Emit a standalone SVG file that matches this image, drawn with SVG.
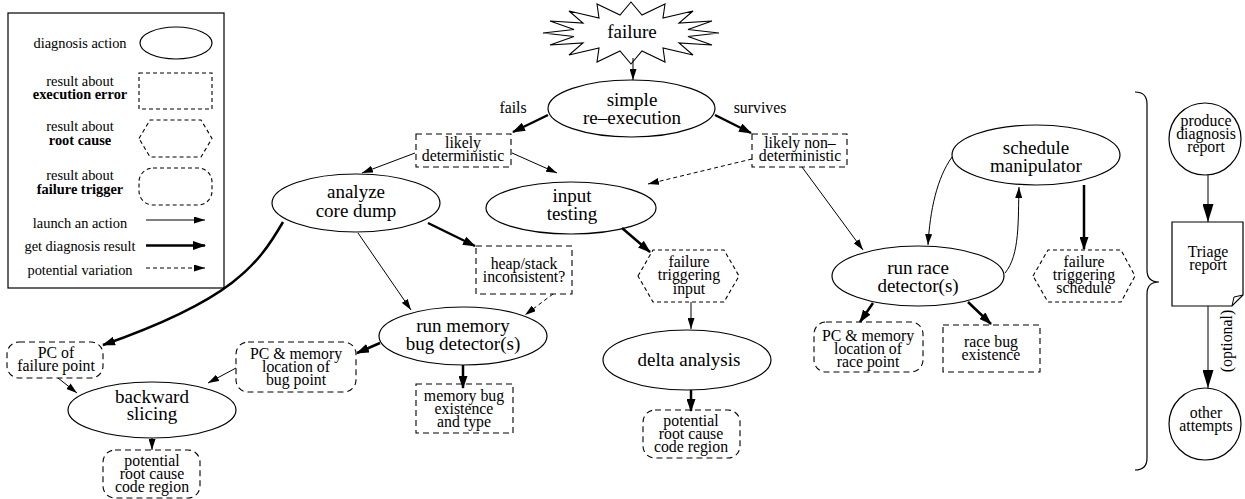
<svg xmlns="http://www.w3.org/2000/svg" width="1245" height="499" viewBox="0 0 1245 499" font-family="'Liberation Serif', 'DejaVu Serif', serif">
<style>
text{font-family:"Liberation Serif","DejaVu Serif",serif;fill:#000;text-anchor:middle}
.nt{font-size:19px}
.rt{font-size:15.8px}
.lt{font-size:14.4px}
.b{font-weight:bold}
.act{fill:#fff;stroke:#000;stroke-width:1.2}
.res{fill:#fff;stroke:#000;stroke-width:1.1;stroke-dasharray:6,4}
.hex{fill:#fff;stroke:#000;stroke-width:1.1;stroke-dasharray:4,3}
.thin{fill:none;stroke:#000;stroke-width:1;marker-end:url(#ah)}
.thick{fill:none;stroke:#000;stroke-width:2.5;marker-end:url(#ahb)}
.dash{fill:none;stroke:#000;stroke-width:1;stroke-dasharray:4,3;marker-end:url(#ah)}
.big{fill:none;stroke:#000;stroke-width:1;marker-end:url(#ahl)}
</style>
<defs>
<marker id="ah" viewBox="0 0 11 7" refX="11" refY="3.5" markerWidth="11" markerHeight="7" orient="auto" markerUnits="userSpaceOnUse"><path d="M0,0 L11,3.5 L0,7 z"/></marker>
<marker id="ahb" viewBox="0 0 13 9" refX="12" refY="4.5" markerWidth="13" markerHeight="9" orient="auto" markerUnits="userSpaceOnUse"><path d="M0,0 L13,4.5 L0,9 z"/></marker>
<marker id="ahl" viewBox="0 0 18 11" refX="18" refY="5.5" markerWidth="18" markerHeight="11" orient="auto" markerUnits="userSpaceOnUse"><path d="M0,0 L18,5.5 L0,11 z"/></marker>
</defs>

<g id="legend">
<rect x="8" y="13" width="216" height="275" fill="#fff" stroke="#000" stroke-width="1.2"/>
<text class="lt" x="80" y="48">diagnosis action</text>
<ellipse cx="176" cy="43" rx="36" ry="16" class="act"/>
<text class="lt" x="80" y="86">result about</text>
<text class="lt b" x="80" y="99">execution error</text>
<rect x="139" y="73" width="73" height="36" class="hex"/>
<text class="lt" x="80" y="131">result about</text>
<text class="lt b" x="80" y="145">root cause</text>
<polygon points="139,138.5 150,120 201,120 212,138.5 201,157 150,157" class="hex"/>
<text class="lt" x="80" y="180">result about</text>
<text class="lt b" x="80" y="194">failure trigger</text>
<rect x="139" y="168" width="73" height="37" rx="14" ry="14" class="hex"/>
<text class="lt" x="80" y="228">launch an action</text>
<line x1="146" y1="220" x2="205" y2="220" class="thin"/>
<text class="lt" x="80" y="251">get diagnosis result</text>
<line x1="146" y1="245.5" x2="205" y2="245.5" class="thick"/>
<text class="lt" x="80" y="275">potential variation</text>
<line x1="146" y1="268" x2="205" y2="268" class="dash"/>
</g>

<g id="failure">
<polygon points="719,33 688,36.5 712,45 679,43 693,55 663,48 665,62 642,51 631,64 620,51 597,62 599,48 569,55 583,43 550,45 574,36.5 543,33 574,29.5 550,21 583,23 569,11 599,18 597,4 620,15 631,2 642,15 665,4 663,18 693,11 679,23 712,21 688,29.5" fill="#fff" stroke="#000" stroke-width="1.1"/>
<text class="nt" x="632" y="38">failure</text>
</g>

<g id="simple">
<ellipse cx="631.5" cy="108.5" rx="83.5" ry="28.5" class="act"/>
<text class="nt" x="632" y="106">simple</text>
<text class="nt" x="632" y="124">re–execution</text>
</g>
<text class="rt" x="513" y="113">fails</text>
<text class="rt" x="760" y="113">survives</text>

<g id="likely-det">
<rect x="416" y="134" width="95" height="33" class="res"/>
<text class="rt" x="463" y="148">likely</text>
<text class="rt" x="463" y="161">deterministic</text>
</g>
<g id="likely-nondet">
<rect x="752" y="134" width="95" height="33" class="res"/>
<text class="rt" x="800" y="148">likely non–</text>
<text class="rt" x="800" y="161">deterministic</text>
</g>

<g id="analyze">
<ellipse cx="356" cy="203" rx="84" ry="29" class="act"/>
<text class="nt" x="356" y="198">analyze</text>
<text class="nt" x="356" y="217">core dump</text>
</g>
<g id="input">
<ellipse cx="571" cy="208" rx="85" ry="26" class="act"/>
<text class="nt" x="572" y="202">input</text>
<text class="nt" x="572" y="220">testing</text>
</g>

<g id="heapstack">
<rect x="476" y="246" width="96" height="48" class="res"/>
<text class="rt" x="524" y="269">heap/stack</text>
<text class="rt" x="524" y="282">inconsistent?</text>
</g>

<g id="fti">
<polygon points="638,276 653,250 724,250 739,276 724,302 653,302" class="hex"/>
<text class="rt" x="689" y="267">failure</text>
<text class="rt" x="689" y="280">triggering</text>
<text class="rt" x="689" y="294">input</text>
</g>

<g id="delta">
<ellipse cx="687" cy="360" rx="84" ry="30" class="act"/>
<text class="nt" x="689" y="366">delta analysis</text>
</g>

<g id="prc-mid">
<rect x="643" y="410" width="97" height="48" rx="12" ry="12" class="res"/>
<text class="rt" x="691" y="426">potential</text>
<text class="rt" x="691" y="439">root cause</text>
<text class="rt" x="691" y="452">code region</text>
</g>

<g id="runmem">
<ellipse cx="463" cy="336" rx="84" ry="29" class="act"/>
<text class="nt" x="463" y="332">run memory</text>
<text class="nt" x="463" y="350">bug detector(s)</text>
</g>

<g id="membug">
<rect x="416" y="384" width="97" height="49" class="res"/>
<text class="rt" x="464" y="401">memory bug</text>
<text class="rt" x="464" y="414">existence</text>
<text class="rt" x="464" y="427">and type</text>
</g>

<g id="pcmem-bug">
<rect x="236" y="342" width="120" height="50" rx="12" ry="12" class="res"/>
<text class="rt" x="296" y="359">PC &amp; memory</text>
<text class="rt" x="296" y="372">location of</text>
<text class="rt" x="296" y="385">bug point</text>
</g>

<g id="pcfail">
<rect x="7" y="342" width="96" height="36" rx="12" ry="12" class="res"/>
<text class="rt" x="56" y="358">PC of</text>
<text class="rt" x="56" y="371">failure point</text>
</g>

<g id="backward">
<ellipse cx="152" cy="410" rx="84" ry="28" class="act"/>
<text class="nt" x="152" y="403">backward</text>
<text class="nt" x="152" y="420">slicing</text>
</g>

<g id="prc-left">
<rect x="103" y="450" width="97" height="48" rx="12" ry="12" class="res"/>
<text class="rt" x="152" y="466">potential</text>
<text class="rt" x="152" y="479">root cause</text>
<text class="rt" x="152" y="492">code region</text>
</g>

<g id="runrace">
<ellipse cx="918" cy="276" rx="86" ry="30" class="act"/>
<text class="nt" x="918" y="274">run race</text>
<text class="nt" x="918" y="292">detector(s)</text>
</g>

<g id="sched">
<ellipse cx="1036" cy="155" rx="84" ry="30" class="act"/>
<text class="nt" x="1036" y="154">schedule</text>
<text class="nt" x="1036" y="172">manipulator</text>
</g>

<g id="fts">
<polygon points="1033,276 1048,250 1121,250 1135,276 1121,302 1048,302" class="hex"/>
<text class="rt" x="1084" y="267">failure</text>
<text class="rt" x="1084" y="280">triggering</text>
<text class="rt" x="1084" y="293">schedule</text>
</g>

<g id="pcmem-race">
<rect x="814" y="322" width="109" height="50" rx="12" ry="12" class="res"/>
<text class="rt" x="868" y="341">PC &amp; memory</text>
<text class="rt" x="868" y="354">location of</text>
<text class="rt" x="868" y="367">race point</text>
</g>

<g id="racebug">
<rect x="943" y="325" width="97" height="47" class="res"/>
<text class="rt" x="991" y="347">race bug</text>
<text class="rt" x="991" y="360">existence</text>
</g>

<g id="brace">
<path d="M1135,92 Q1147,92 1147,104 L1147,270 Q1147,282 1159,282 Q1147,282 1147,294 L1147,458 Q1147,470 1135,470" fill="none" stroke="#000" stroke-width="1.2"/>
</g>

<g id="produce">
<circle cx="1205" cy="139" r="36" fill="#fff" stroke="#000" stroke-width="1.2"/>
<text class="rt" x="1206" y="126">produce</text>
<text class="rt" x="1206" y="139">diagnosis</text>
<text class="rt" x="1206" y="152">report</text>
</g>

<g id="triage">
<path d="M1172,222 H1243 V295 L1232,306 H1172 Z" fill="#fff" stroke="#000" stroke-width="1.2"/>
<path d="M1232,306 L1234,297 L1243,295" fill="none" stroke="#000" stroke-width="1"/>
<text class="rt" x="1208" y="257">Triage</text>
<text class="rt" x="1208" y="270">report</text>
</g>

<g id="other">
<circle cx="1205" cy="424" r="36" fill="#fff" stroke="#000" stroke-width="1.2"/>
<text class="rt" x="1206" y="418">other</text>
<text class="rt" x="1206" y="431">attempts</text>
</g>
<text class="rt" x="0" y="0" transform="translate(1232,341) rotate(-90)">(optional)</text>

<g id="connectors">
<line x1="633" y1="58" x2="633" y2="80" class="thin"/>
<line x1="548" y1="115" x2="513" y2="132" class="thick"/>
<line x1="715" y1="115" x2="751" y2="133" class="thick"/>
<line x1="512" y1="153" x2="557" y2="173" class="thin"/>
<line x1="752" y1="159" x2="648" y2="184" class="dash"/>
<line x1="415" y1="153" x2="362" y2="173" class="thin"/>
<line x1="802" y1="167" x2="863" y2="250" class="thin"/>
<line x1="428" y1="223" x2="475" y2="246" class="thick"/>
<line x1="358" y1="233" x2="411" y2="310" class="thin"/>
<path d="M283,222 C258,265 232,300 103,345" class="thick"/>
<line x1="622" y1="228" x2="650" y2="252" class="thick"/>
<line x1="553" y1="294" x2="525" y2="315" class="dash"/>
<line x1="691" y1="302" x2="691" y2="329" class="thin"/>
<line x1="691" y1="390" x2="691" y2="411" class="thick"/>
<line x1="463" y1="365" x2="463" y2="388" class="thick"/>
<line x1="380" y1="343" x2="357" y2="353" class="thick"/>
<line x1="236" y1="368" x2="208" y2="383" class="thin"/>
<line x1="58" y1="378" x2="77" y2="393" class="thin"/>
<line x1="152" y1="438" x2="152" y2="450" class="thin"/>
<path d="M952,157 C937,178 930,210 928,245" class="thin"/>
<path d="M1005,273 C1020,255 1018,220 1019,187" class="thin"/>
<line x1="1084" y1="185" x2="1084" y2="249" class="thick"/>
<line x1="873" y1="303" x2="860" y2="322" class="thick"/>
<line x1="968" y1="302" x2="991" y2="324" class="thick"/>
<line x1="1208" y1="175" x2="1208" y2="222" class="big"/>
<line x1="1208" y1="306" x2="1208" y2="388" class="big"/>
</g>
</svg>
